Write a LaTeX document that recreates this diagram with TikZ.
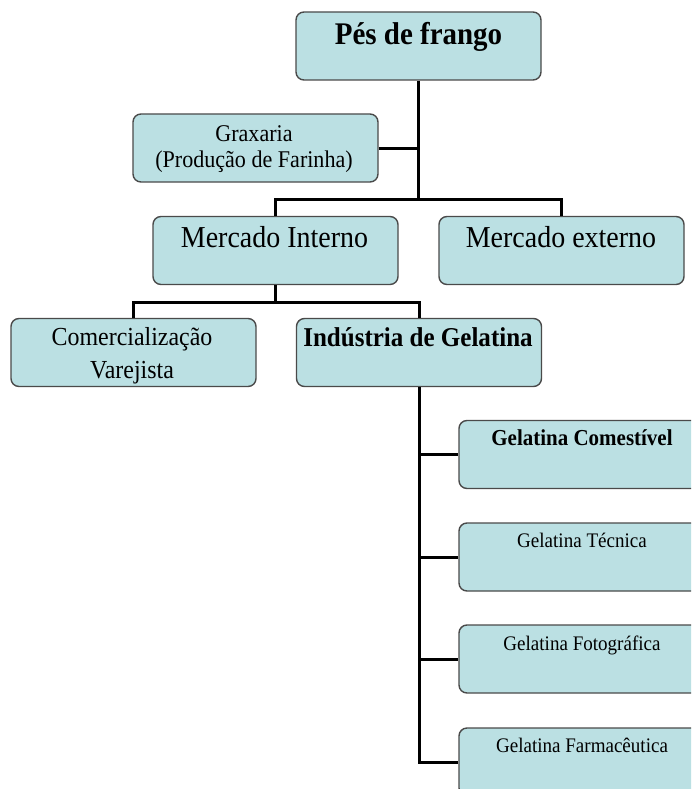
\documentclass[tikz,border=0pt]{standalone}
\usepackage{fontspec}
\setmainfont[FakeStretch=0.92]{Liberation Serif}
\definecolor{boxfill}{HTML}{BBE0E3}
\definecolor{boxline}{HTML}{4A4A4A}
\tikzset{
  box/.style={draw=boxline, line width=1.4pt, fill=boxfill, rounded corners=8pt,
    minimum width=245pt, minimum height=68pt, inner sep=0pt},
  conn/.style={line width=3pt, draw=black},
  lbl/.style={anchor=base, inner sep=0pt, align=center}
}
\begin{document}
\begin{tikzpicture}[x=1pt,y=-1pt]
\useasboundingbox (0,0) rectangle (691,789);
\clip (0,0) rectangle (691,789);
% boxes
\node[box] (pes)  at (418.5,46) {};
\node[box] (grax) at (255.5,148) {};
\node[box] (mi)   at (275.5,250.5) {};
\node[box] (me)   at (561.5,250.5) {};
\node[box] (com)  at (133.5,352.5) {};
\node[box] (ind)  at (419,352.5) {};
\node[box] (g1)   at (581.5,454.5) {};
\node[box] (g2)   at (581.5,557) {};
\node[box] (g3)   at (581.5,659) {};
\node[box] (g4)   at (581.5,762) {};
% junction levels
\coordinate (h1) at (0,199);
\coordinate (h2) at (0,302);
% connectors
\draw[conn] (pes.south) -- (pes.south |- h1);
\draw[conn] (grax.east) -- (grax.east -| pes.south);
\draw[conn] (mi.north) -- (mi.north |- h1) -| (me.north);
\draw[conn] (mi.south) -- (mi.south |- h2);
\draw[conn] (com.north) -- (com.north |- h2) -| (ind.north);
\draw[conn] (ind.south) |- (g4.west);
\draw[conn] (ind.south |- g1.west) -- (g1.west);
\draw[conn] (ind.south |- g2.west) -- (g2.west);
\draw[conn] (ind.south |- g3.west) -- (g3.west);
% texts
\node[lbl, font=\bfseries\fontsize{31.5}{34}\selectfont] (tpes) at (418.5,45) {Pés de frango};
\node[lbl, font=\fontsize{24}{26}\selectfont] (tgrax) at (254,167) {Graxaria\\(Produção de Farinha)};
\node[lbl, font=\fontsize{30.4}{32}\selectfont] (tmi) at (274.5,247) {Mercado Interno};
\node[lbl, font=\fontsize{30.4}{32}\selectfont] (tme) at (561,247) {Mercado externo};
\node[lbl, font=\fontsize{26}{33}\selectfont] (tcom) at (132,378) {Comercialização\\Varejista};
\node[lbl, font=\bfseries\fontsize{27.2}{30}\selectfont] (tind) at (418,346) {Indústria de Gelatina};
\node[lbl, font=\bfseries\fontsize{22.8}{25}\selectfont] (tg1) at (582,445) {Gelatina Comestível};
\node[lbl, font=\fontsize{20.7}{23}\selectfont] (tg2) at (582,547) {Gelatina Técnica};
\node[lbl, font=\fontsize{20.7}{23}\selectfont] (tg3) at (582,650) {Gelatina Fotográfica};
\node[lbl, font=\fontsize{20.7}{23}\selectfont] (tg4) at (582,752) {Gelatina Farmacêutica};
\end{tikzpicture}
\end{document}
